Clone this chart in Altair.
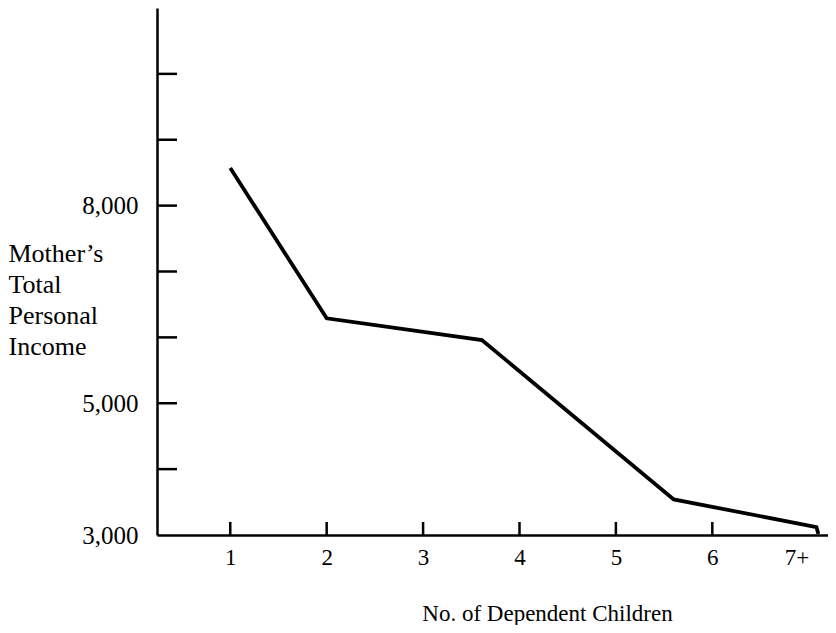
import altair as alt
import pandas as pd

# Line data
children = [1.0, 2.0, 3.61, 5.6, 7.08, 7.1]
income = [8570, 6290, 5960, 3540, 3120, 3015]

x_tick_values = [1, 2, 3, 4, 5, 6]
x_label_values = [1, 2, 3, 4, 5, 6, 7]
y_tick_values = [4000, 5000, 6000, 7000, 8000, 9000, 10000]
y_label_values = [3000, 5000, 8000]
y_title_lines = ["Mother\u2019s", "Total", "Personal", "Income"]
x_title = "No. of Dependent Children"

FONT = "Liberation Serif"
W, H = 671, 527

df = pd.DataFrame({"children": children, "income": income})
xt = pd.DataFrame({"children": x_tick_values})
yt = pd.DataFrame({"income": y_tick_values})

x_scale = alt.Scale(domain=[0.24, 7.2], nice=False, zero=False)
y_scale = alt.Scale(domain=[3000, 11000], nice=False, zero=False)

x_axis = alt.Axis(
    values=x_label_values,
    labelExpr="datum.value >= 7 ? '7+' : format(datum.value, 'd')",
    labelAlign={"condition": {"test": "datum.value >= 7", "value": "right"}, "value": "center"},
    ticks=False,
    grid=False,
    domainColor="black",
    domainWidth=2.5,
    labelFont=FONT,
    labelFontSize=23,
    labelColor="black",
    labelPadding=11,
    title=x_title,
    titleFont=FONT,
    titleFontSize=23,
    titleFontWeight="normal",
    titleColor="black",
    titleX=390,
    titleY=85,
    titleAlign="center",
    titleBaseline="alphabetic",
)

y_axis = alt.Axis(
    values=y_label_values,
    labelExpr="format(datum.value, ',d')",
    ticks=False,
    grid=False,
    domainColor="black",
    domainWidth=2.5,
    labelFont=FONT,
    labelFontSize=25,
    labelColor="black",
    labelPadding=19,
    title=y_title_lines,
    titleFont=FONT,
    titleFontSize=26,
    titleFontWeight="normal",
    titleColor="black",
    titleAngle=0,
    titleAlign="left",
    titleBaseline="alphabetic",
    titleX=-149,
    titleY=253,
    titleLineHeight=31,
)

X = alt.X("children:Q", scale=x_scale, axis=x_axis)
Y = alt.Y("income:Q", scale=y_scale, axis=y_axis)

line = alt.Chart(df).mark_line(color="black", strokeWidth=3.8).encode(x=X, y=Y)

xticks = alt.Chart(xt).mark_rule(color="black", strokeWidth=2.5).encode(
    x=X, y=alt.value(H - 13), y2=alt.value(H)
)

yticks = alt.Chart(yt).mark_rule(color="black", strokeWidth=2.5).encode(
    y=Y, x=alt.value(0), x2=alt.value(20)
)

chart = (
    alt.layer(yticks, xticks, line)
    .properties(
        width=W,
        height=H,
        background="white",
        autosize=alt.AutoSizeParams(type="none"),
        padding={"left": 149, "top": 0, "right": 0, "bottom": 90},
    )
    .configure_view(strokeWidth=0, stroke="transparent")
)

chart.save("out.html", embed_options={"renderer": "svg", "actions": False})
